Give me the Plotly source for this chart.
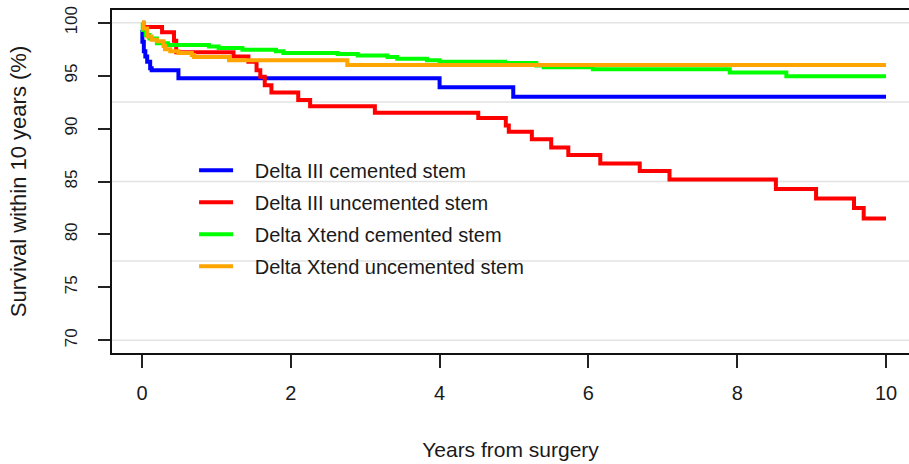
import plotly.graph_objects as go

# ---- data ----
series_names = [
    "Delta III cemented stem",
    "Delta III uncemented stem",
    "Delta Xtend cemented stem",
    "Delta Xtend uncemented stem",
]
series_colors = ["#0000FF", "#FF0000", "#00FF00", "#FFA500"]

d3_cem_t = [0, 0.005, 0.025, 0.045, 0.07, 0.11, 0.13, 0.49, 4.0, 4.99, 10]
d3_cem_v = [99.3, 98.2, 97.3, 96.8, 96.3, 95.7, 95.5, 94.75, 93.9, 93.0, 93.0]

d3_unc_t = [0, 0.02, 0.27, 0.43, 0.46, 1.23, 1.43, 1.54, 1.59, 1.65, 1.74, 2.1, 2.26,
            3.13, 4.52, 4.89, 4.93, 5.24, 5.5, 5.73, 6.16, 6.69, 7.09, 8.52, 9.06,
            9.57, 9.7, 10]
d3_unc_v = [100, 99.6, 99.1, 98.3, 97.2, 96.8, 96.3, 95.5, 94.9, 94.1, 93.4, 92.7, 92.1,
            91.5, 91.0, 90.3, 89.7, 89.0, 88.2, 87.5, 86.7, 86.0, 85.2, 84.3, 83.4,
            82.5, 81.5, 81.5]

dx_cem_t = [0, 0.01, 0.05, 0.1, 0.2, 0.35, 0.9, 1.03, 1.35, 1.8, 1.9, 2.63, 2.9, 3.3,
            3.43, 3.83, 4.0, 4.88, 5.3, 5.4, 6.06, 7.9, 8.66, 10]
dx_cem_v = [100, 99.3, 98.85, 98.5, 98.05, 97.9, 97.75, 97.6, 97.45, 97.3, 97.15, 97.05,
            96.9, 96.75, 96.6, 96.45, 96.3, 96.2, 95.95, 95.8, 95.6, 95.3, 94.95, 94.95]

dx_unc_t = [0, 0.02, 0.07, 0.13, 0.2, 0.29, 0.31, 0.38, 0.49, 0.67, 0.70, 1.17, 2.76, 10]
dx_unc_v = [100, 99.45, 98.7, 98.4, 98.25, 97.8, 97.5, 97.3, 97.15, 96.95, 96.75, 96.45,
            96.0, 96.0]

series_t = [d3_cem_t, d3_unc_t, dx_cem_t, dx_unc_t]
series_v = [d3_cem_v, d3_unc_v, dx_cem_v, dx_unc_v]

x_ticks = [0, 2, 4, 6, 8, 10]
y_ticks = [70, 75, 80, 85, 90, 95, 100]
grid_y = [70, 77.5, 85, 92.5, 100]
x_title = "Years from surgery"
y_title = "Survival within 10 years (%)"

FONT = "Liberation Sans, Arial, sans-serif"
TXT = "#1a1a1a"
NBSP = "\u00a0" * 3

fig = go.Figure()
for name, col, t, v in zip(series_names, series_colors, series_t, series_v):
    fig.add_trace(go.Scatter(
        x=t, y=v, mode="lines", name=NBSP + name, legendgroup=name,
        line=dict(color=col, width=4, shape="hv"),
    ))

for gy in grid_y:
    fig.add_shape(type="line", xref="paper", x0=0, x1=1, yref="y", y0=gy, y1=gy,
                  line=dict(color="#e3e3e3", width=1.5), layer="below")

fig.update_layout(
    width=909, height=464,
    margin=dict(l=112, r=0, t=10, b=111),
    plot_bgcolor="white", paper_bgcolor="white",
    font=dict(family=FONT, color=TXT),
    showlegend=True,
    legend=dict(
        x=0.103, y=0.590, xanchor="left", yanchor="top",
        bgcolor="rgba(0,0,0,0)", borderwidth=0,
        font=dict(size=20, family=FONT, color=TXT),
        tracegroupgap=3, itemwidth=34,
    ),
    xaxis=dict(
        range=[-0.403, 10.309], tickvals=x_ticks, ticktext=[str(v) for v in x_ticks],
        showgrid=False, zeroline=False,
        showline=True, linecolor="#111", linewidth=1.5, mirror=True,
        ticks="outside", ticklen=13, tickwidth=1.5, tickcolor="#222",
        tickfont=dict(size=20, family=FONT, color=TXT),
        ticklabelstandoff=8,
        title=dict(text=x_title, font=dict(size=21, family=FONT, color=TXT), standoff=40),
    ),
    yaxis=dict(
        range=[68.8, 101.2], tickvals=y_ticks, ticktext=[str(v) for v in y_ticks],
        showgrid=False, zeroline=False,
        showline=True, linecolor="#111", linewidth=1.5,
        ticks="outside", ticklen=12, tickwidth=1.5, tickcolor="#222",
        tickangle=-90,
        tickfont=dict(size=17, family=FONT, color=TXT),
        ticklabelstandoff=14,
        title=dict(text=y_title, font=dict(size=22, family=FONT, color=TXT), standoff=30),
    ),
)

fig.write_html("out.html")
